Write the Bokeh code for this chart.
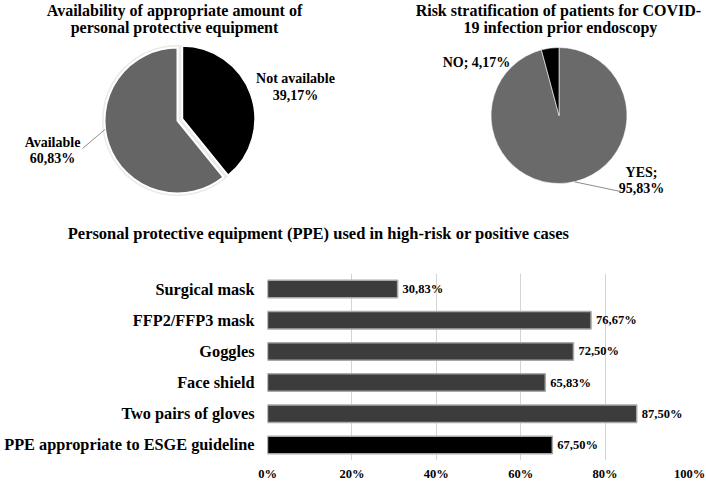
import numpy as np
from bokeh.plotting import figure
from bokeh.layouts import column, row
from bokeh.models import Range1d, FactorRange, FixedTicker
from bokeh.core.properties import value
from bokeh.embed import file_html
from bokeh.resources import INLINE

# ---------------- data ----------------
avail_title = ["Availability of appropriate amount of", "personal protective equipment"]
avail_labels = ["Not available", "Available"]
avail_values = [39.17, 60.83]

risk_title = ["Risk stratification of patients for COVID-", "19 infection prior endoscopy"]
risk_labels = ["YES", "NO"]
risk_values = [95.83, 4.17]

ppe_title = "Personal protective equipment (PPE) used in high-risk or positive cases"
ppe_categories = ["Surgical mask", "FFP2/FFP3 mask", "Goggles", "Face shield",
                  "Two pairs of gloves", "PPE appropriate to ESGE guideline"]
ppe_values = [30.83, 76.67, 72.50, 65.83, 87.50, 67.50]
x_ticks = [0, 20, 40, 60, 80, 100]
x_tick_labels = ["0%", "20%", "40%", "60%", "80%", "100%"]

FONT = "Liberation Serif"


def fmt(v):
    return f"{v:.2f}".replace(".", ",") + "%"


def angles(vals):
    frac = np.array(vals, dtype=float) / sum(vals)
    cum = np.concatenate([[0.0], np.cumsum(frac)])
    start = np.pi / 2 - 2 * np.pi * cum[1:]
    end = np.pi / 2 - 2 * np.pi * cum[:-1]
    return start, end


def base_fig(width, height, xr, yr):
    p = figure(width=width, height=height, x_range=Range1d(*xr), y_range=Range1d(*yr),
               x_axis_location=None, y_axis_location=None, min_border=0,
               toolbar_location=None, output_backend="svg")
    p.grid.visible = False
    p.outline_line_color = None
    p.background_fill_color = "white"
    p.border_fill_color = "white"
    p.frame_align = False
    return p


def txt(p, xs, ys, texts, size, align="center"):
    p.text(x=xs, y=ys, text=texts, text_font=value(FONT), text_font_style="bold",
           text_font_size=size, text_align=align, text_baseline="middle", text_color="black")


# ---------------- left pie ----------------
p1 = base_fig(353, 222, (0, 353), (-222, 0))
cx, cy, r = 177, -120, 73
st, en = angles(avail_values)
mid = (st + en) / 2
explode = np.array([5.0, 0.0])
p1.circle(x=[cx], y=[cy], radius=r + 2.5, fill_color="#dcdcdc", fill_alpha=0.6, line_color=None)
p1.wedge(x=cx + explode * np.cos(mid), y=cy + explode * np.sin(mid), radius=r,
         start_angle=st, end_angle=en, fill_color=["#000000", "#656565"],
         line_color="white", line_width=2)
txt(p1, [174, 174], [-10, -27], avail_title, "16px")
txt(p1, [295, 295, 52, 52], [-78, -95, -142, -158],
    [avail_labels[0], fmt(avail_values[0]), avail_labels[1], fmt(avail_values[1])], "14px")
p1.line(x=[cx + r * np.cos(np.radians(187)), 82], y=[cy + r * np.sin(np.radians(187)), -148],
        line_color="#8c8c8c", line_width=1)

# ---------------- right pie ----------------
p2 = base_fig(353, 222, (353, 706), (-222, 0))
cx2, cy2, r2 = 558.5, -115, 68
st2, en2 = angles(risk_values)
p2.wedge(x=cx2, y=cy2, radius=r2, start_angle=st2, end_angle=en2,
         fill_color=["#6a6a6a", "#000000"], line_color="white", line_width=0.6)
txt(p2, [558, 560], [-10, -27], risk_title, "16px")
txt(p2, [476], [-62], [f"{risk_labels[1]}; {fmt(risk_values[1])}"], "14px")
txt(p2, [641, 641], [-172, -188], [f"{risk_labels[0]};", fmt(risk_values[0])], "14px")
p2.line(x=[cx2 + r2 * np.cos(np.radians(-77)), 620], y=[cy2 + r2 * np.sin(np.radians(-77)), -191],
        line_color="#8c8c8c", line_width=1)

# ---------------- bar title strip ----------------
pt = base_fig(706, 31, (0, 706), (-253, -222))
txt(pt, [318], [-233], [ppe_title], "16.5px")

# ---------------- bar chart ----------------
p3 = figure(width=706, height=230, x_range=Range1d(0, 100),
            y_range=FactorRange(factors=list(reversed(ppe_categories))),
            min_border_left=267, min_border_right=17, min_border_top=20, min_border_bottom=0,
            toolbar_location=None, output_backend="svg")
p3.frame_align = False
bar_colors = ["#3c3c3c"] * (len(ppe_values) - 1) + ["#000000"]
p3.hbar(y=ppe_categories, right=ppe_values, left=0, height=0.56,
        fill_color=bar_colors, line_color="#a8a8a8", line_width=1.5)
p3.text(x=ppe_values, y=ppe_categories, text=[fmt(v) for v in ppe_values],
        x_offset=5, text_align="left", text_baseline="middle",
        text_font=value(FONT), text_font_style="bold", text_font_size="12.5px", text_color="black")
p3.xaxis.ticker = FixedTicker(ticks=x_ticks)
p3.xaxis.major_label_overrides = {t: l for t, l in zip(x_ticks, x_tick_labels)}
for ax in (p3.xaxis[0], p3.yaxis[0]):
    ax.axis_line_color = None
    ax.major_tick_line_color = None
    ax.minor_tick_line_color = None
    ax.major_tick_out = 0
    ax.major_tick_in = 0
    ax.minor_tick_out = 0
    ax.minor_tick_in = 0
    ax.major_label_text_font = FONT
    ax.major_label_text_font_style = "bold"
    ax.major_label_text_color = "black"
p3.xaxis.major_label_text_font_size = "12.5px"
p3.xaxis.major_label_standoff = 6
p3.yaxis.major_label_text_font_size = "16.3px"
p3.yaxis.major_label_standoff = 13
p3.ygrid.grid_line_color = None
p3.xgrid.grid_line_color = "#d4d4d4"
p3.xgrid.grid_line_width = 1
p3.outline_line_color = None

layout = column(row(p1, p2), pt, p3)
open("out.html", "w").write(file_html(layout, INLINE))
